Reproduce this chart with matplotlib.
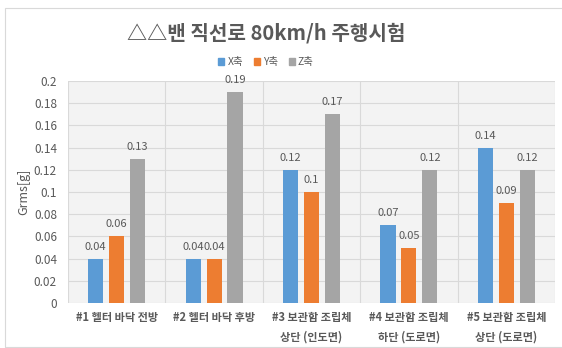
import matplotlib
matplotlib.use('Agg')
import matplotlib.pyplot as plt
import matplotlib.patches as mpatches
import numpy as np

plt.rcParams['font.family'] = ['Noto Sans CJK KR', 'DejaVu Sans']

title = '△△밴 직선로 80km/h 주행시험'
categories = ['#1 헬터 바닥 전방', '#2 헬터 바닥 후방',
              '#3 보관함 조립체\n상단 (인도면)', '#4 보관함 조립체\n하단 (도로면)',
              '#5 보관함 조립체\n상단 (도로면)']
series_names = ['X축', 'Y축', 'Z축']
x_vals = [0.04, 0.04, 0.12, 0.07, 0.14]
y_vals = [0.06, 0.04, 0.10, 0.05, 0.09]
z_vals = [0.13, 0.19, 0.17, 0.12, 0.12]
y_ticks = [0, 0.02, 0.04, 0.06, 0.08, 0.1, 0.12, 0.14, 0.16, 0.18, 0.2]
y_tick_labels = ['0', '0.02', '0.04', '0.06', '0.08', '0.1', '0.12', '0.14', '0.16', '0.18', '0.2']

colors = ['#5B9BD5', '#ED7D31', '#A5A5A5']
txt = '#595959'

W, H = 562, 348
fig = plt.figure(figsize=(W / 100, H / 100), dpi=100)

# outer chart frame
fig.patches.append(mpatches.Rectangle((4.5 / W, 1.5 / H), 1.2, 1 - 9.5 / H,
                                      transform=fig.transFigure, fill=False,
                                      edgecolor='#d9d9d9', linewidth=0.8))

ax = fig.add_axes([68 / W, 1 - 303 / H, (555 - 68) / W, (303 - 81) / H])
ax.set_facecolor('#f3f3f3')

xpos = np.arange(len(categories))
bw = 0.155
off = 0.215
for i, (vals, col) in enumerate(zip([x_vals, y_vals, z_vals], colors)):
    bars = ax.bar(xpos + (i - 1) * off, vals, width=bw, color=col, zorder=3)
    for b, v in zip(bars, vals):
        ax.annotate('%g' % v, (b.get_x() + b.get_width() / 2, v),
                    xytext=(0, 5), textcoords='offset points',
                    ha='center', va='bottom', fontsize=8, color=txt)

ax.set_xlim(-0.5, len(categories) - 0.5)
ax.set_ylim(0, 0.2)
ax.set_yticks(y_ticks)
ax.set_yticklabels(y_tick_labels)
ax.set_xticks(xpos)
ax.set_xticklabels(categories, fontsize=8, fontweight='bold', color=txt,
                   linespacing=1.6)

# horizontal grid + category separators
ax.grid(axis='y', color='#d9d9d9', linewidth=0.8, zorder=0)
for xb in np.arange(-0.5, len(categories) + 0.5, 1.0):
    ax.axvline(xb, color='#d9d9d9', linewidth=0.8, zorder=0)

ax.tick_params(axis='both', length=0, colors=txt)
ax.tick_params(axis='y', labelsize=8.5, pad=8)
ax.tick_params(axis='x', pad=6)
for s in ax.spines.values():
    s.set_visible(False)

# axis title placed as free text so its spot does not depend on tick widths
fig.text(24 / W, 1 - 192 / H, 'Grms[g]', rotation=90, ha='center', va='center',
         fontsize=9, color=txt)

fig.text(266 / W, 1 - 33 / H, title, ha='center', va='center',
         fontsize=14.5, fontweight='bold', color=txt)

handles = [mpatches.Patch(color=c, label=n) for c, n in zip(colors, series_names)]
fig.legend(handles=handles, loc='center', bbox_to_anchor=(266 / W, 1 - 62 / H),
           ncol=3, frameon=False, fontsize=7.5, labelcolor=txt,
           handlelength=0.6, handleheight=0.6, handletextpad=0.3, columnspacing=1.0)

fig.savefig('out.png', dpi=100)
